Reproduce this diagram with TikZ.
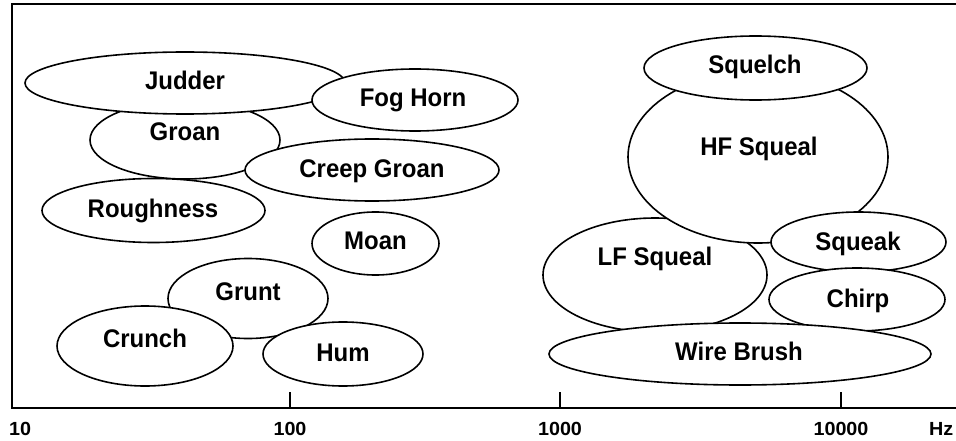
\documentclass[tikz,border=0pt]{standalone}
\usepackage{fontspec}
\setmainfont{Liberation Sans}
\newfontfamily\lblfont[FakeStretch=0.94]{Liberation Sans}
\newfontfamily\axfont[FakeStretch=1.04]{Liberation Sans}
\usetikzlibrary{shapes.geometric}
\tikzset{
  blob/.style={ellipse, draw=black, fill=white, line width=1.6pt, inner sep=0pt, outer sep=0pt},
  lbl/.style={anchor=base, inner sep=0pt, font=\lblfont\fontsize{25.5}{30}\selectfont\bfseries},
  axlbl/.style={anchor=base, inner sep=0pt, font=\axfont\fontsize{19}{22}\selectfont\bfseries},
  frame/.style={line width=2.6pt},
  tick/.style={line width=2.2pt}
}
\begin{document}
\begin{tikzpicture}[x=1pt,y=-1pt]
\useasboundingbox (0,0) rectangle (956,441);
% frame
\draw[frame] (956,4) -- (12,4) -- (12,408) -- (956,408);
\draw[tick] (290,392) -- (290,408);
\draw[tick] (560,392) -- (560,408);
\draw[tick] (841,392) -- (841,408);
\node[axlbl, anchor=base west] (t10) at (9,435) {10};
\node[axlbl] (t100) at (290,435) {100};
\node[axlbl] (t1000) at (560,435) {1000};
\node[axlbl] (t10000) at (841,435) {10000};
\node[axlbl, anchor=base west] (thz) at (929,435) {Hz};
% left group
\node[blob, minimum width=190pt, minimum height=78pt] (groan) at (185,140) {};
\node[blob, minimum width=320pt, minimum height=62pt] (judder) at (185,83) {};
\node[blob, minimum width=206pt, minimum height=62pt] (foghorn) at (415,100) {};
\node[blob, minimum width=254pt, minimum height=62pt] (creep) at (372,170) {};
\node[blob, minimum width=223pt, minimum height=64pt] (rough) at (153.5,210.5) {};
\node[blob, minimum width=127pt, minimum height=63pt] (moan) at (375.5,243.5) {};
\node[blob, minimum width=160pt, minimum height=80pt] (grunt) at (248,298.5) {};
\node[blob, minimum width=176pt, minimum height=80pt] (crunch) at (145,346) {};
\node[blob, minimum width=160pt, minimum height=64pt] (hum) at (343,354) {};
% right group
\node[blob, minimum width=224pt, minimum height=114pt] (lfsq) at (655,275) {};
\node[blob, minimum width=260pt, minimum height=172pt] (hfsq) at (758,157) {};
\node[blob, minimum width=223pt, minimum height=64pt] (squelch) at (755.5,68) {};
\node[blob, minimum width=175pt, minimum height=60pt] (squeak) at (858.5,242) {};
\node[blob, minimum width=176pt, minimum height=63pt] (chirp) at (857,299.5) {};
\node[blob, minimum width=382pt, minimum height=62pt] (wire) at (740,354) {};
% labels
\node[lbl] (judderT) at (185,90) {Judder};
\node[lbl] (groanT) at (185,141) {Groan};
\node[lbl] (foghornT) at (413,107) {Fog Horn};
\node[lbl] (creepT) at (372,178) {Creep Groan};
\node[lbl] (roughT) at (153,217) {Roughness};
\node[lbl] (moanT) at (375.5,249.5) {Moan};
\node[lbl] (gruntT) at (248,300) {Grunt};
\node[lbl] (crunchT) at (145,347) {Crunch};
\node[lbl] (humT) at (343,361) {Hum};
\node[lbl] (squelchT) at (755,74) {Squelch};
\node[lbl] (hfsqT) at (759,156) {HF Squeal};
\node[lbl] (lfsqT) at (655,265) {LF Squeal};
\node[lbl] (squeakT) at (858,250) {Squeak};
\node[lbl] (chirpT) at (858,307) {Chirp};
\node[lbl] (wireT) at (739,360) {Wire Brush};
\end{tikzpicture}
\end{document}
